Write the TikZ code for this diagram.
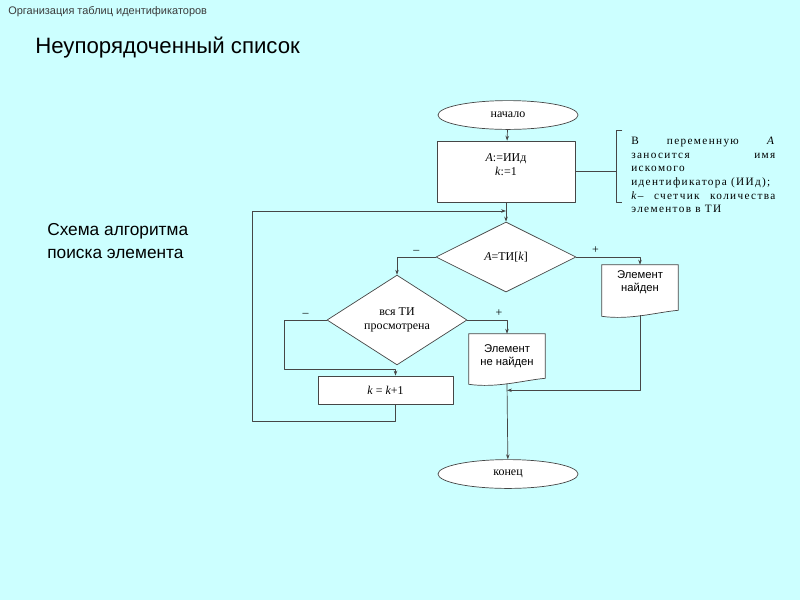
\documentclass[tikz,border=0pt]{standalone}
\usepackage{fontspec}
\setmainfont{Liberation Serif}
\setsansfont{Liberation Sans}
\newfontfamily\notefont[LetterSpace=12]{Liberation Serif}
\usetikzlibrary{shapes.geometric,arrows.meta,calc,backgrounds}
\definecolor{bgc}{RGB}{204,255,255}
\definecolor{linec}{RGB}{70,70,70}
\definecolor{topicc}{RGB}{60,60,60}
\tikzset{
 line/.style={draw=linec, line width=.5pt},
 flow/.style={line, -{Stealth[length=3.5pt,width=2.5pt]}},
 term/.style={ellipse, line, fill=white, minimum width=3.5cm, minimum height=.72cm, inner sep=0pt},
 proc/.style={rectangle, line, fill=white, inner sep=0pt, align=center},
 cond/.style={diamond, line, fill=white, minimum width=3.5cm, minimum height=1.75cm, inner sep=0pt, align=center},
 doc/.style={rectangle, minimum width=1.9cm, inner sep=0pt, align=center, font=\sffamily\fontsize{8}{9.5}\selectfont},
}
\begin{document}
\begin{tikzpicture}[x=.025cm, y=-.025cm, line join=round, font=\fontsize{8.5}{9.8}\selectfont]
 \useasboundingbox (0,0) rectangle (800,600);
 \begin{scope}[on background layer]
  \fill[bgc] (0,0) rectangle (800,600);
 \end{scope}
 % headings
 \node[anchor=base west, inner sep=0pt, text=topicc, font=\sffamily\fontsize{7.8}{9}\selectfont] (topic) at (8,14) {Организация таблиц идентификаторов};
 \node[anchor=base west, inner sep=0pt, font=\sffamily\fontsize{15.8}{19}\selectfont] (title) at (35,53) {Неупорядоченный список};
 \node[anchor=north west, inner sep=0pt, align=left, font=\sffamily\fontsize{12.3}{16.3}\selectfont] (caption) at (47,223) {Схема алгоритма\\поиска элемента};
 % blocks
 \node[term] (start) at (508,115) {начало};
 \node[proc, minimum width=3.45cm, minimum height=1.52cm] (init) at (506,171.5) {\textit{A}:=ИИд\\\textit{k}:=1\\\mbox{}};
 \node[cond] (cmp) at (506,257) {\textit{A}=ТИ[\textit{k}]};
 \node[doc, minimum height=1.125cm] (found) at (640,287.5) {Элемент\\найден\\\mbox{}};
 \node[cond] (all) at (397,320) {вся ТИ\\просмотрена};
 \node[doc, minimum height=1.1cm] (lost) at (507,356) {Элемент\\не найден};
 \node[proc, minimum width=3.375cm, minimum height=.7cm] (next) at (385.5,390) {\textit{k} = \textit{k}+1};
 \node[term] (stop) at (508,474) {конец};
 \begin{scope}[on background layer]
  \foreach \d in {found,lost}
   \draw[line, fill=white] (\d.north west) -- (\d.north east) -- (\d.south east)
    .. controls ($(\d.south east)+(-22,2)$) and ($(\d.south west)+(28,10)$) .. ($(\d.south west)+(0,6)$) -- cycle;
 \end{scope}
 % comment
 \draw[line] (init.east) -- ++(41,0) coordinate (brk);
 \draw[line] ($(brk)+(6,-41)$) -- ++(-6,0) -- ++(0,72) -- ++(6,0);
 \node[anchor=north west, inner sep=0pt, text width=3.6cm, align=justify, font=\notefont\fontsize{8}{9.7}\selectfont] (note) at (631,137)
  {В переменную \textit{A}\linebreak заносится имя\linebreak искомого\\ идентификатора (ИИд);\\ \textit{k}– счетчик количества\linebreak элементов в ТИ};
 % connectors
 \coordinate (join) at ($(init.south)!.45!(cmp.north)$);
 \coordinate (nextin) at ($(next.north)+(10,0)$);
 \coordinate (nextout) at ($(next.south)+(10,0)$);
 \coordinate (foundout) at ($(found.south)+(0,5)$);
 \coordinate (lostout) at ($(lost.south)+(0,5)$);
 \coordinate (merge) at ($(lost.south)+(0,12)$);
 \draw[flow] (start) -- (init);
 \draw[flow] (init) -- (cmp);
 \draw[flow] (cmp.west) -| (all.north) node[pos=.25, above=-1pt]{--};
 \draw[flow] (cmp.east) -| (found.north) node[pos=.15, above=-1pt]{+};
 \draw[flow] (all.west) -- node[above=-1pt]{--} ++(-42,0) |- ($(nextin)+(0,-6)$) -- (nextin);
 \draw[flow] (all.east) -| (lost.north) node[pos=.4, above=-1pt]{+};
 \draw[flow] (nextout) -- ++(0,17) -| ($(join)+(-254,0)$) -- (join);
 \draw[flow] (foundout) |- (merge);
 \draw[flow] (lostout) -- (stop);
\end{tikzpicture}
\end{document}
